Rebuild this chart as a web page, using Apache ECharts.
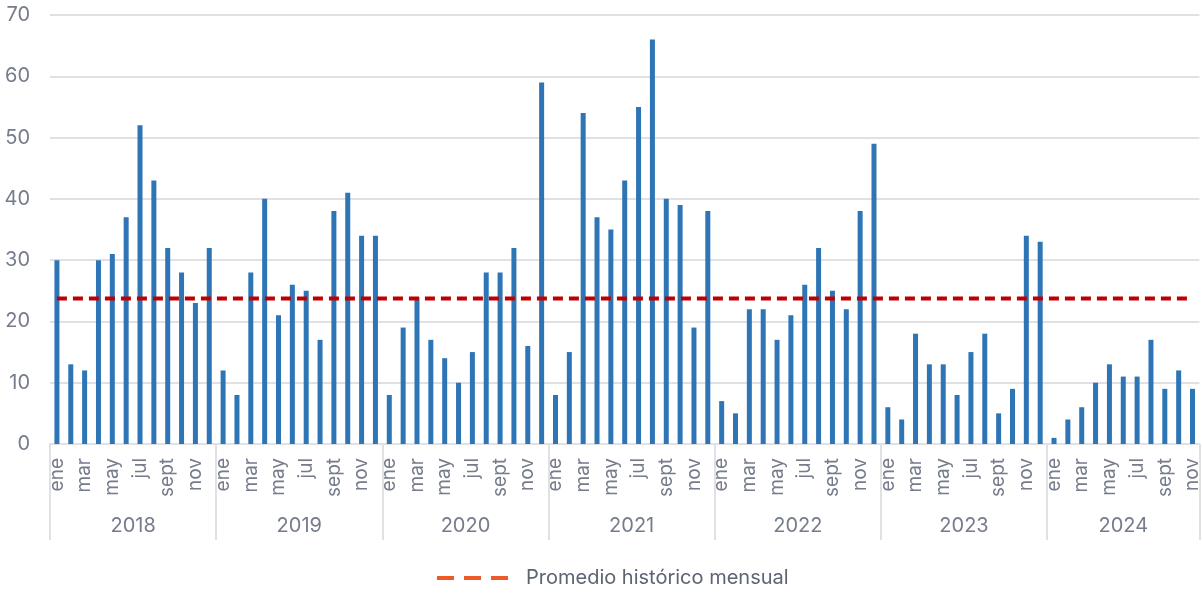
<!DOCTYPE html>
<html lang="es">
<head>
<meta charset="utf-8">
<title>Promedio histórico mensual</title>
<script src="https://cdn.jsdelivr.net/npm/echarts@6/dist/echarts.min.js"></script>
<style>
  html, body { margin: 0; padding: 0; background: #ffffff; }
  #chart { width: 1202px; height: 594px; }
</style>
</head>
<body>
<div id="chart"></div>
<script>
// Month abbreviations and years shown on the two-level category axis
const months = ['ene', 'feb', 'mar', 'abr', 'may', 'jun', 'jul', 'ago', 'sept', 'oct', 'nov', 'dic'];
const years = ['2018', '2019', '2020', '2021', '2022', '2023', '2024'];

// Monthly counts per year
const values2018 = [30, 13, 12, 30, 31, 37, 52, 43, 32, 28, 23, 32];
const values2019 = [12, 8, 28, 40, 21, 26, 25, 17, 38, 41, 34, 34];
const values2020 = [8, 19, 24, 17, 14, 10, 15, 28, 28, 32, 16, 59];
const values2021 = [8, 15, 54, 37, 35, 43, 55, 66, 40, 39, 19, 38];
const values2022 = [7, 5, 22, 22, 17, 21, 26, 32, 25, 22, 38, 49];
const values2023 = [6, 4, 18, 13, 13, 8, 15, 18, 5, 9, 34, 33];
const values2024 = [1, 4, 6, 10, 13, 11, 11, 17, 9, 12, 9];

// Historical monthly average (reference line)
const historicalAverage = 23.75;

// Value axis ticks
const yTicks = [0, 10, 20, 30, 40, 50, 60, 70];

const yearValues = [values2018, values2019, values2020, values2021, values2022, values2023, values2024];

// Flatten into one category per month
const categories = [];
const monthly = [];
const yearStarts = [];
const yearCenters = [];
yearValues.forEach((vals, yi) => {
  const start = categories.length;
  yearStarts.push(start);
  yearCenters.push(start + vals.length / 2);
  vals.forEach((v, mi) => {
    categories.push(years[yi] + '|' + months[mi]);
    monthly.push(v);
  });
});
const total = categories.length;
const separators = yearStarts.concat([total]);
const averageLine = categories.map(() => historicalAverage);

const labelColor = '#767C8C';
const gridColor = '#E0E0E5';
const fontFamily = 'Inter, "Open Sans", "Liberation Sans", sans-serif';

const chart = echarts.init(document.getElementById('chart'), null, { renderer: 'canvas' });

chart.setOption({
  animation: false,
  textStyle: { fontFamily: fontFamily },
  grid: { left: 50, right: 1, top: 15, bottom: 150, containLabel: false },
  legend: {
    bottom: 6,
    left: 435,
    padding: 0,
    itemWidth: 72,
    itemHeight: 14,
    itemGap: 18,
    textStyle: { color: '#5E6474', fontSize: 20, fontFamily: fontFamily, padding: [0, 0, 0, 12] },
    data: [{
      name: 'Promedio histórico mensual',
      itemStyle: { color: '#EC5A2A', opacity: 0 },
      lineStyle: { color: '#EC5A2A', width: 4, type: [17, 10], cap: 'butt' }
    }]
  },
  xAxis: [
    {
      type: 'category',
      data: categories,
      boundaryGap: true,
      axisLine: { show: true, lineStyle: { color: gridColor, width: 2 } },
      axisTick: { show: false },
      axisLabel: {
        interval: 1,
        rotate: 90,
        margin: 14,
        color: labelColor,
        fontSize: 19,
        fontFamily: fontFamily,
        formatter: (v) => v.split('|')[1]
      },
      splitLine: { show: false }
    },
    {
      type: 'value',
      min: 0,
      max: total,
      position: 'bottom',
      axisLine: { show: false },
      axisTick: {
        show: true,
        customValues: separators,
        length: 96,
        lineStyle: { color: gridColor, width: 2 }
      },
      axisLabel: {
        customValues: yearCenters,
        margin: 72,
        color: labelColor,
        fontSize: 20,
        fontFamily: fontFamily,
        formatter: (v) => years[yearCenters.indexOf(v)] || ''
      },
      splitLine: { show: false }
    }
  ],
  yAxis: {
    type: 'value',
    min: yTicks[0],
    max: yTicks[yTicks.length - 1],
    interval: 10,
    axisLine: { show: false },
    axisTick: { show: false },
    axisLabel: {
      margin: 20,
      color: labelColor,
      fontSize: 20,
      fontFamily: fontFamily
    },
    splitLine: { show: true, lineStyle: { color: gridColor, width: 2 } }
  },
  series: [
    {
      name: 'Mensual',
      type: 'bar',
      xAxisIndex: 0,
      data: monthly,
      barWidth: 5,
      itemStyle: { color: '#2E75B6' },
      z: 2
    },
    {
      name: 'Promedio histórico mensual',
      type: 'line',
      xAxisIndex: 0,
      data: averageLine,
      symbol: 'none',
      lineStyle: { color: '#C00000', width: 4, type: [10, 6], cap: 'butt' },
      z: 3
    }
  ]
});
</script>
</body>
</html>
